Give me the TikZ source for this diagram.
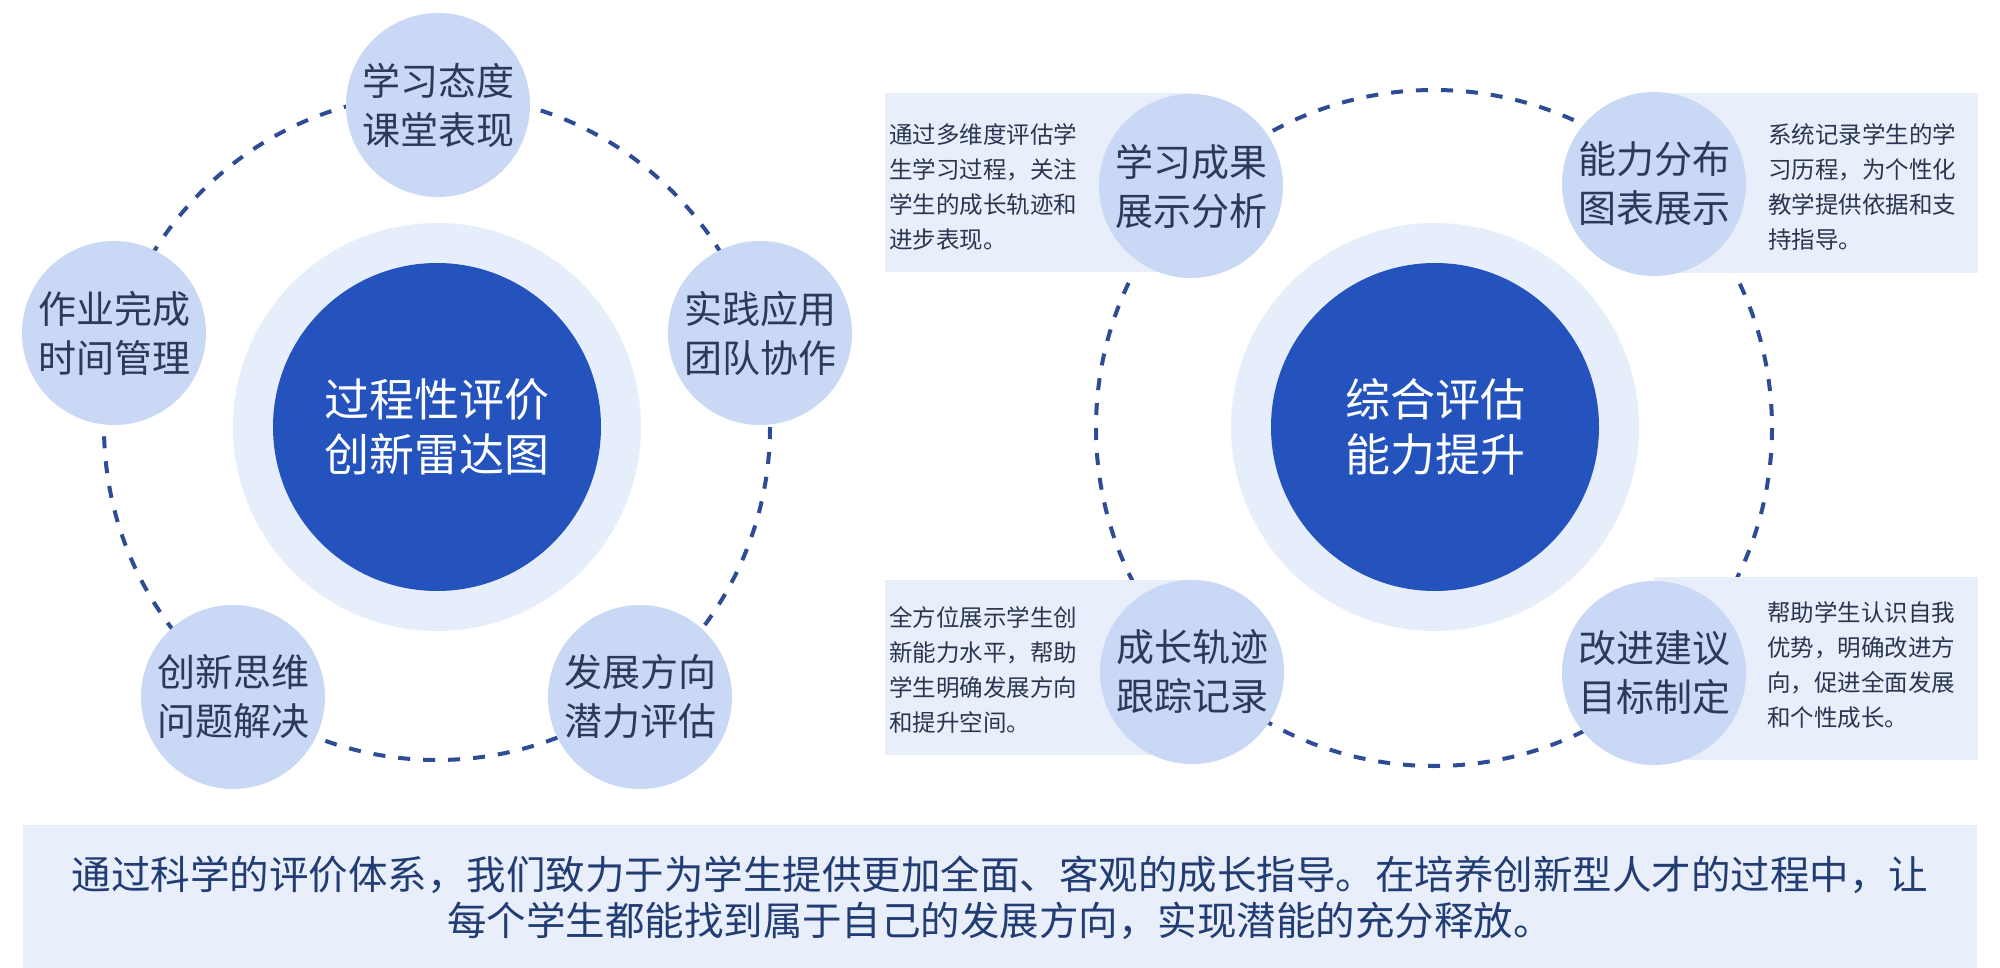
\documentclass[tikz,border=0pt]{standalone}
\usepackage{fontspec}
\setmainfont{Noto Sans CJK SC}
\newfontfamily\cjk{Noto Sans CJK SC}
\IfFontExistsTF{FandolSong-Regular.otf}
  {\newfontfamily\song{FandolSong-Regular.otf}
   \newfontfamily\songb{FandolSong-Regular.otf}[FakeBold=1.2]}
  {\newfontfamily\song{Noto Sans CJK SC}
   \newfontfamily\songb{Noto Sans CJK SC}}
\definecolor{darkblue}{HTML}{2453BE}
\definecolor{halocol}{HTML}{E6EEFB}
\definecolor{nodefill}{HTML}{C9D8F5}
\definecolor{ringcol}{HTML}{2D4C94}
\definecolor{txt}{HTML}{2B3A58}
\definecolor{desctxt}{HTML}{2A3550}
\definecolor{boxfill}{HTML}{E8EEFA}
\definecolor{bottomtxt}{HTML}{223D74}
\begin{document}
\begin{tikzpicture}[x=1pt,y=-1pt,
  hub/.style={circle, fill=darkblue, minimum size=328pt, inner sep=0pt, text=white,
    font=\cjk\fontsize{45}{55}\selectfont, align=center},
  haloring/.style={circle, fill=halocol, minimum size=408pt, inner sep=0pt},
  sat/.style={circle, fill=nodefill, minimum size=184pt, inner sep=0pt, text=txt,
    font=\song\fontsize{38}{49}\selectfont, align=center},
  desc/.style={text=desctxt, font=\songb\fontsize{23.5}{35}\selectfont, align=left,
    anchor=north west, inner sep=0pt},
  ringline/.style={draw=ringcol, line width=4pt, dash pattern=on 12pt off 13pt},
  descbox/.style={fill=boxfill, draw=none}
]
\useasboundingbox (0,0) rectangle (2000,968);
\fill[white] (0,0) rectangle (2000,968);

% ---------- left diagram ----------
\coordinate (L) at (437,427);
\draw[ringline] (L) circle[radius=333];
\node[haloring] (Lhalo) at (L) {};
\node[hub] (Lc) at (L) {过程性评价\\创新雷达图};
\node[sat] (L1) at (438,105) {学习态度\\课堂表现};
\node[sat] (L2) at (760,333) {实践应用\\团队协作};
\node[sat] (L5) at (114,333) {作业完成\\时间管理};
\node[sat] (L3) at (640,697) {发展方向\\潜力评估};
\node[sat] (L4) at (233,697) {创新思维\\问题解决};

% ---------- right diagram ----------
\coordinate (R) at (1434,428);
\draw[ringline] (R) circle[radius=338];
\fill[descbox] (885,93) rectangle (1191,272);
\fill[descbox] (1654,93) rectangle (1978,273);
\fill[descbox] (885,580) rectangle (1192,755);
\fill[descbox] (1654,577) rectangle (1978,760);
\node[haloring] (Rhalo) at (1435,427) {};
\node[hub] (Rc) at (1435,427) {综合评估\\能力提升};
\node[sat] (R1) at (1191,186) {学习成果\\展示分析};
\node[sat] (R2) at (1654,184) {能力分布\\图表展示};
\node[sat] (R3) at (1192,672) {成长轨迹\\跟踪记录};
\node[sat] (R4) at (1654,673) {改进建议\\目标制定};

\node[desc] (D1) at (889,123) {通过多维度评估学\\生学习过程，关注\\学生的成长轨迹和\\进步表现。};
\node[desc] (D2) at (1768,123) {系统记录学生的学\\习历程，为个性化\\教学提供依据和支\\持指导。};
\node[desc] (D3) at (889,606) {全方位展示学生创\\新能力水平，帮助\\学生明确发展方向\\和提升空间。};
\node[desc] (D4) at (1767,601) {帮助学生认识自我\\优势，明确改进方\\向，促进全面发展\\和个性成长。};

% ---------- bottom ----------
\fill[boxfill] (23,825) rectangle (1977,968);
\node[text=bottomtxt, font=\songb\fontsize{39.5}{46}\selectfont, align=center] (B) at (1000,898)
  {通过科学的评价体系，我们致力于为学生提供更加全面、客观的成长指导。在培养创新型人才的过程中，让\\每个学生都能找到属于自己的发展方向，实现潜能的充分释放。};
\end{tikzpicture}
\end{document}
